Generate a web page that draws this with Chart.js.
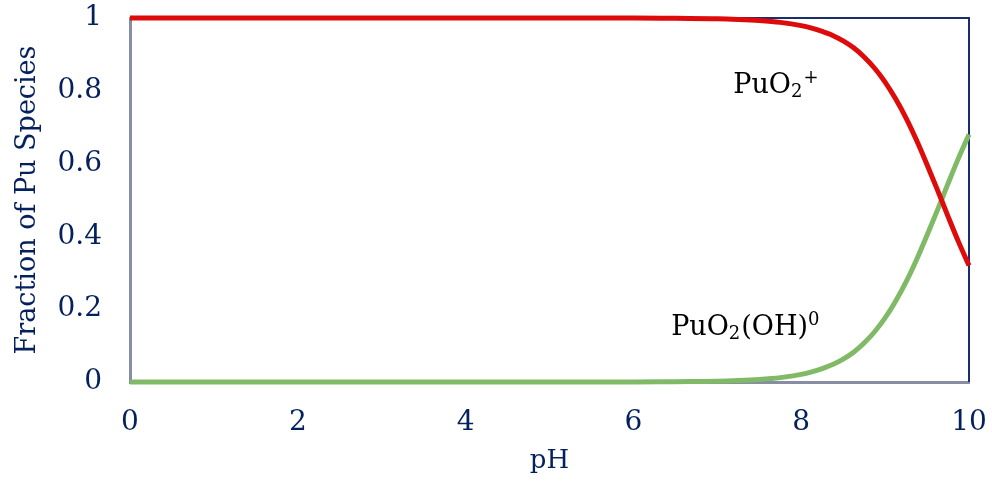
<!DOCTYPE html>
<html>
<head>
<meta charset="utf-8">
<script src="https://cdn.jsdelivr.net/npm/chart.js@4/dist/chart.umd.min.js"></script>
<style>
  html, body { margin: 0; padding: 0; background: #ffffff; }
  #wrap { width: 992px; height: 483px; }
</style>
</head>
<body>
<div id="wrap"><canvas id="c" width="992" height="483"></canvas></div>
<script>
// Speciation of Pu(V) versus pH
const pH        = [0, 1, 2, 3, 4, 5, 6, 6.5, 7, 7.25, 7.5, 7.75, 8, 8.125, 8.25, 8.375, 8.5, 8.625, 8.75, 8.875,
                   9, 9.125, 9.25, 9.375, 9.5, 9.625, 9.75, 9.875, 10];
const puo2Plus  = [1, 1, 1, 1, 1, 1, 1, 0.999, 0.998, 0.996, 0.993, 0.988, 0.979, 0.972, 0.963, 0.952, 0.937, 0.918, 0.893, 0.862,
                   0.824, 0.778, 0.725, 0.664, 0.597, 0.527, 0.455, 0.385, 0.32];
const puo2OH    = [0, 0, 0, 0, 0, 0, 0, 0.001, 0.002, 0.004, 0.007, 0.012, 0.021, 0.028, 0.037, 0.048, 0.063, 0.082, 0.107, 0.138,
                   0.176, 0.222, 0.275, 0.336, 0.403, 0.473, 0.545, 0.615, 0.68];
const xTicks    = [0, 2, 4, 6, 8, 10];
const yTicks    = [0, 0.2, 0.4, 0.6, 0.8, 1];

// Curve labels: anchor (pH, fraction) and text pieces with baseline shift
const curveLabels = [
  { x: 7.19, y: 0.795, parts: [['PuO', 0], ['2', 1], ['+', -1]] },
  { x: 6.45, y: 0.13,  parts: [['PuO', 0], ['2', 1], ['(OH)', 0], ['0', -1]] }
];

const NAVY = '#04215E';
const AXIS_GREY = '#878DA3';
const FONT = '"DejaVu Serif", "Liberation Serif", serif';

const toPoints = ys => pH.map((x, i) => ({ x: x, y: ys[i] }));

const frame = {
  id: 'frame',
  beforeDatasetsDraw(chart) {
    const { ctx, chartArea: a } = chart;
    ctx.save();
    ctx.strokeStyle = '#1A2E6E';
    ctx.lineWidth = 2;
    ctx.beginPath();
    ctx.moveTo(a.left, a.top);
    ctx.lineTo(a.right, a.top);
    ctx.lineTo(a.right, a.bottom);
    ctx.stroke();
    ctx.restore();
  }
};

const labelPlugin = {
  id: 'curveLabels',
  afterDatasetsDraw(chart) {
    const { ctx, scales } = chart;
    const size = 27;
    ctx.save();
    ctx.fillStyle = '#000000';
    ctx.textBaseline = 'alphabetic';
    ctx.textAlign = 'left';
    curveLabels.forEach(lbl => {
      let px = scales.x.getPixelForValue(lbl.x);
      const py = scales.y.getPixelForValue(lbl.y);
      lbl.parts.forEach(([t, shift]) => {
        const s = shift === 0 ? size : Math.round(size * 0.66);
        ctx.font = s + 'px ' + FONT;
        const dy = shift === 1 ? size * 0.16 : shift === -1 ? -size * 0.36 : 0;
        ctx.fillText(t, px, py + dy);
        px += ctx.measureText(t).width + (shift === 1 ? 1 : 0);
      });
    });
    ctx.restore();
  }
};

// keep the plot area exactly inside the layout padding
const noOverflowX = s => { s.height = 101; s.paddingLeft = 0; s.paddingRight = 0; };
const noOverflowY = s => { s.width = 130; s.paddingTop = 0; s.paddingBottom = 0; };

new Chart(document.getElementById('c'), {
  type: 'line',
  data: {
    datasets: [
      {
        label: 'PuO2+',
        data: toPoints(puo2Plus),
        borderColor: '#DE0B0B',
        borderWidth: 5,
        pointRadius: 0,
        cubicInterpolationMode: 'monotone',
        fill: false
      },
      {
        label: 'PuO2(OH)0',
        data: toPoints(puo2OH),
        borderColor: '#80BA66',
        borderWidth: 5,
        pointRadius: 0,
        cubicInterpolationMode: 'monotone',
        fill: false
      }
    ]
  },
  options: {
    responsive: false,
    animation: false,
    clip: false,
    layout: { padding: { top: 18, right: 23, left: 0, bottom: 0 } },
    plugins: {
      legend: { display: false },
      tooltip: { enabled: false }
    },
    scales: {
      x: {
        type: 'linear',
        min: 0, max: 10,
        afterFit: noOverflowX,
        afterBuildTicks: s => { s.ticks = xTicks.map(v => ({ value: v })); },
        grid: { display: false, drawTicks: false },
        border: { display: true, color: AXIS_GREY, width: 3 },
        ticks: { color: NAVY, font: { family: FONT, size: 28 }, padding: 24, maxRotation: 0 },
        title: { display: true, text: 'pH', color: NAVY, font: { family: FONT, size: 26 }, padding: { top: 0, bottom: 6 } }
      },
      y: {
        min: 0, max: 1,
        afterFit: noOverflowY,
        afterBuildTicks: s => { s.ticks = yTicks.map(v => ({ value: v })); },
        grid: { display: false, drawTicks: false },
        border: { display: true, color: AXIS_GREY, width: 3 },
        ticks: { color: NAVY, font: { family: FONT, size: 28 }, padding: 28, callback: v => String(v) },
        title: { display: true, text: 'Fraction of Pu Species', color: NAVY, font: { family: FONT, size: 27 }, padding: { top: 12, bottom: 0 } }
      }
    }
  },
  plugins: [frame, labelPlugin]
});
</script>
</body>
</html>
